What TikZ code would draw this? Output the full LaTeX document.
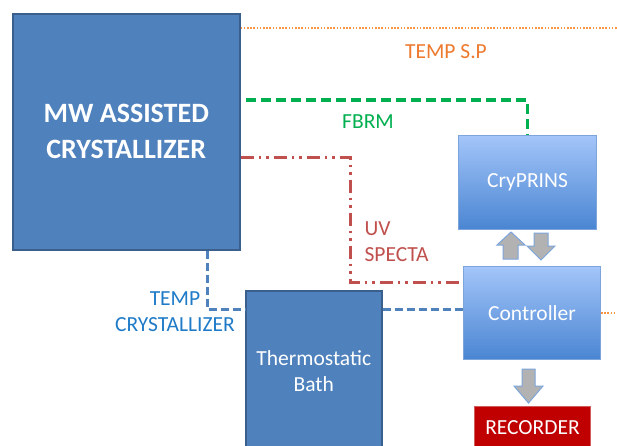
\documentclass[tikz,border=0pt]{standalone}
\usepackage{fontspec}
\setmainfont{Carlito}
\definecolor{boxblue}{HTML}{4F81BD}
\definecolor{boxedge}{HTML}{3A5F8C}
\definecolor{gradtop}{HTML}{A3C5F9}
\definecolor{gradbot}{HTML}{4A85D2}
\definecolor{gradedge}{HTML}{7DA5DC}
\definecolor{recred}{HTML}{C00000}
\definecolor{recedge}{HTML}{D25A58}
\definecolor{lnorange}{HTML}{F79646}
\definecolor{txorange}{HTML}{EE7A2E}
\definecolor{lngreen}{HTML}{00B050}
\definecolor{lnred}{HTML}{C0504D}
\definecolor{lnblue}{HTML}{4F81BD}
\definecolor{txblue}{HTML}{1F7BC8}
\tikzset{
  x=1pt, y=-1pt,
  txt/.style={font=\fontsize{21.5}{26}\selectfont, align=center},
  flatbox/.style={draw=boxedge, line width=1.5pt, fill=boxblue, text=white, anchor=north west, inner sep=0pt},
  gradbox/.style={draw=gradedge, line width=1pt, top color=gradtop, bottom color=gradbot, text=white, anchor=north west, inner sep=0pt, txt},
  recbox/.style={draw=recedge, line width=1pt, fill=recred, text=white, anchor=north west, inner sep=0pt, txt},
  tempsp/.style={draw=lnorange, line width=2.4pt, dash pattern=on 1.6pt off 1.6pt},
  fbrmline/.style={draw=lngreen, line width=3.2pt, dash pattern=on 10pt off 5pt},
  uvline/.style={draw=lnred, line width=3pt, dash pattern=on 13pt off 5pt on 2.5pt off 5pt on 2.5pt off 5pt},
  tcline/.style={draw=lnblue, line width=3pt, dash pattern=on 8pt off 4pt},
  blockarrow/.style={draw=gradedge, line width=1pt, top color=gray!60, middle color=gray!8, bottom color=gray!60},
}
\begin{document}
\begin{tikzpicture}
\useasboundingbox (0,0) rectangle (617,445);
\fill[white] (0,0) rectangle (617,445);

% boxes
\node[flatbox, minimum width=227pt, minimum height=236pt, font=\fontsize{28}{36}\selectfont\bfseries, align=center] (mw) at (12,13) {MW ASSISTED\\CRYSTALLIZER};
\node[gradbox, minimum width=138pt, minimum height=94pt] (cry) at (458,135) {CryPRINS};
\node[gradbox, minimum width=137pt, minimum height=93pt] (ctl) at (463,266) {Controller};
\node[flatbox, txt, minimum width=136pt, minimum height=160pt] (bath) at (245,290) {Thermostatic\\Bath};
\node[recbox, minimum width=116pt, minimum height=42pt] (rec) at (474,406) {RECORDER};

% coordinates
\coordinate (sp1) at (617,28);
\coordinate (fb1) at (246,100);
\coordinate (uv1) at (350,157);
\coordinate (uv2) at (350,282);
\coordinate (tc1) at (207,309);

% connectors
\draw[tempsp] (mw.east |- sp1) -- (sp1);
\draw[tempsp] (ctl.east) -- (ctl.east -| sp1);
\draw[fbrmline] (fb1) -- (fb1 -| cry.north) -- (cry.north);
\draw[uvline] (mw.east |- uv1) -- (uv1) -- (uv2) -- (uv2 -| ctl.west);
\draw[tcline] (mw.south -| tc1) -- (tc1) -- (tc1 -| bath.west);
\draw[tcline] (bath.east |- tc1) -- (tc1 -| ctl.west);

% labels
\node[txt, text=txorange] (lsp) at (446,52) {TEMP S.P};
\node[txt, text=lngreen] (lfb) at (368,122) {FBRM};
\node[txt, text=lnred, align=left, anchor=west] (luv) at (361,242) {UV\\SPECTA};
\node[txt, text=txblue] (ltc) at (175,312) {TEMP\\CRYSTALLIZER};

% block arrows
\path[blockarrow] (503,259) -- (503,245) -- (497,245) -- (511,232) -- (525,245) -- (518,245) -- (518,259) -- cycle;
\path[blockarrow] (534,233) -- (548,233) -- (548,246) -- (555,246) -- (541,260) -- (527,246) -- (534,246) -- cycle;
\path[blockarrow] (522,369) -- (535,369) -- (535,386) -- (543,386) -- (528.5,403) -- (514,386) -- (522,386) -- cycle;
\end{tikzpicture}
\end{document}
